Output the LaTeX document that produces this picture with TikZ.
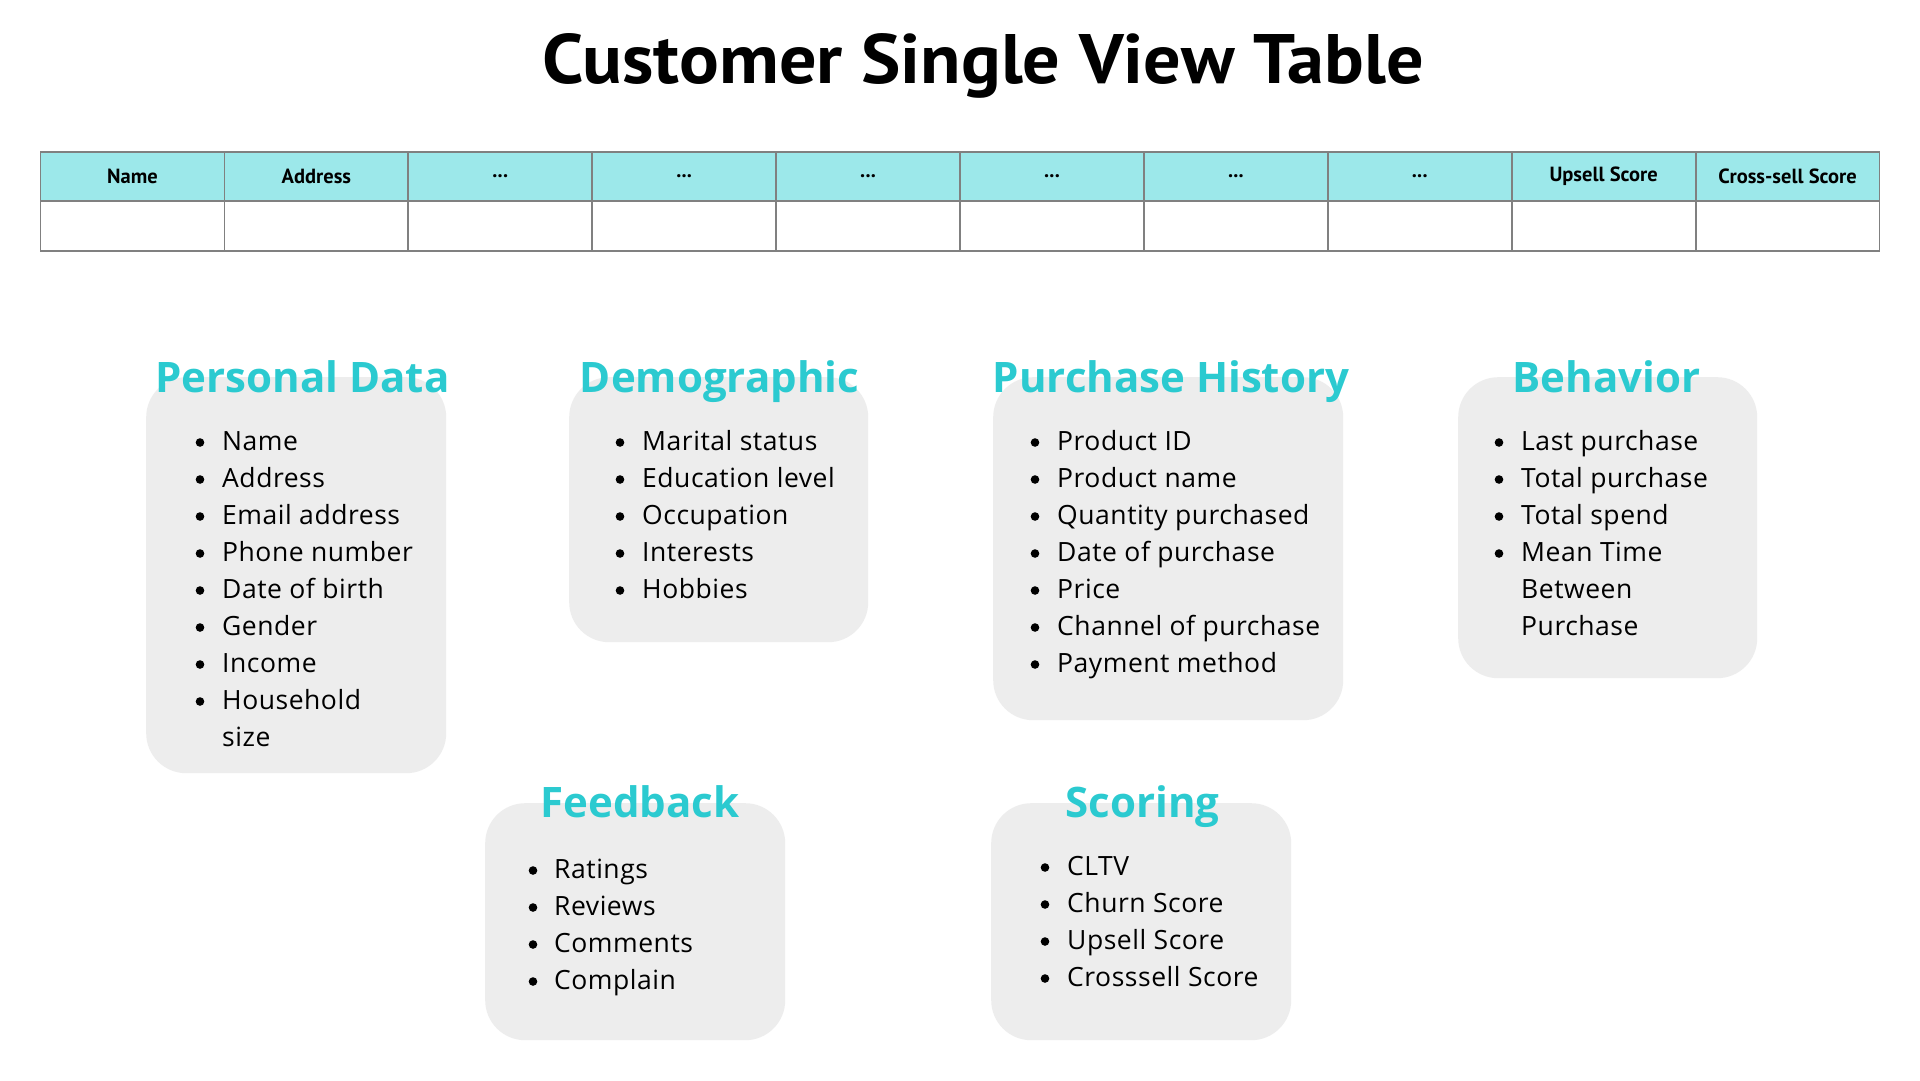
\documentclass[tikz,border=0pt]{standalone}
\usepackage{fontspec}
\setmainfont{Open Sans}
\newfontfamily\ptsans{PT Sans}
\newfontfamily\itemfont{Open Sans}[LetterSpace=2]
\definecolor{hdrfill}{HTML}{9CE8EA}
\definecolor{gridgray}{HTML}{808080}
\definecolor{headteal}{HTML}{2BCAD0}
\definecolor{boxgray}{HTML}{EDEDED}
\newsavebox\fitbox
\newcommand\fitwidth[2]{\sbox\fitbox{#2}\pgfmathsetmacro\fitfac{#1/\the\wd\fitbox}\scalebox{\fitfac}[1]{\usebox\fitbox}}
\newcommand\threedots{...}
\tikzset{
  titletext/.style={inner sep=0pt, anchor=base, font=\ptsans\bfseries\fontsize{70}{84}\selectfont},
  hcell/.style={draw=gridgray, line width=1.8pt, fill=hdrfill, minimum width=183.9pt, minimum height=49pt, inner sep=0pt, font=\ptsans\bfseries\fontsize{20.5}{24}\selectfont},
  bcell/.style={draw=gridgray, line width=1.8pt, fill=white, minimum width=183.9pt, minimum height=50pt, inner sep=0pt},
  card/.style={fill=boxgray, rounded corners=40pt, inner sep=0pt, anchor=north west},
  heading/.style={inner sep=0pt, anchor=base, text=headteal, font=\bfseries\fontsize{42}{50}\selectfont},
  itemtxt/.style={inner sep=0pt, anchor=base west, font=\itemfont\fontsize{26.5}{31}\selectfont},
  bulletdot/.style={fill=black},
}
\newcommand\itemlist[5]{% prefix, bullet x, text x, first baseline, list
  \foreach \t/\b [count=\i from 0] in {#5} {
    \node[itemtxt] (#1-\i) at (#3, {#4+37*\i}) {\t};
    \ifnum\b=1 \fill[bulletdot] (#2, {#4+37*\i-7.5}) circle (4.3); \fi
  }
}
\begin{document}
\begin{tikzpicture}[x=1pt, y=-1pt]
\useasboundingbox (0,0) rectangle (1920,1080);
\fill[white] (0,0) rectangle (1920,1080);

% title
\node[titletext] (title) at (983,83) {\fitwidth{882pt}{Customer Single View Table}};

% table
\foreach \lab [count=\i from 0] in {Name, Address, \threedots, \threedots, \threedots, \threedots, \threedots, \threedots, Upsell Score, Cross-sell Score} {
  \node[hcell] (h\i) at ({40.5+183.9*\i+91.95}, 176.3) {\lab};
  \node[bcell] (r\i) at ({40.5+183.9*\i+91.95}, 226) {};
}

% cards
\node[card, minimum width=300pt, minimum height=396pt] (pdbox) at (146,377) {};
\node[card, minimum width=299pt, minimum height=265pt] (dmbox) at (569,377) {};
\node[card, minimum width=350pt, minimum height=343pt] (phbox) at (993,377) {};
\node[card, minimum width=299pt, minimum height=301pt] (bhbox) at (1458,377) {};
\node[card, minimum width=300pt, minimum height=237pt] (fbbox) at (485,803) {};
\node[card, minimum width=300pt, minimum height=237pt] (scbox) at (991,803) {};

% headings
\node[heading] (pdh) at (302.5,392) {Personal Data};
\node[heading] (dmh) at (719.5,392) {Demographic};
\node[heading] (phh) at (1171,392) {Purchase History};
\node[heading] (bhh) at (1606.5,392) {Behavior};
\node[heading] (fbh) at (640,817) {Feedback};
\node[heading] (sch) at (1142.5,817) {Scoring};

% lists
\itemlist{pd}{200}{222}{450}{Name/1, Address/1, Email address/1, Phone number/1, Date of birth/1, Gender/1, Income/1, Household/1, size/0}
\itemlist{dm}{620}{642}{450}{Marital status/1, Education level/1, Occupation/1, Interests/1, Hobbies/1}
\itemlist{ph}{1035}{1057}{450}{Product ID/1, Product name/1, Quantity purchased/1, Date of purchase/1, Price/1, Channel of purchase/1, Payment method/1}
\itemlist{bh}{1499}{1521}{450}{Last purchase/1, Total purchase/1, Total spend/1, Mean Time/1, Between/0, Purchase/0}
\itemlist{fb}{533}{554}{878}{Ratings/1, Reviews/1, Comments/1, Complain/1}
\itemlist{sc}{1045}{1067}{875}{CLTV/1, Churn Score/1, Upsell Score/1, Crosssell Score/1}
\end{tikzpicture}
\end{document}
